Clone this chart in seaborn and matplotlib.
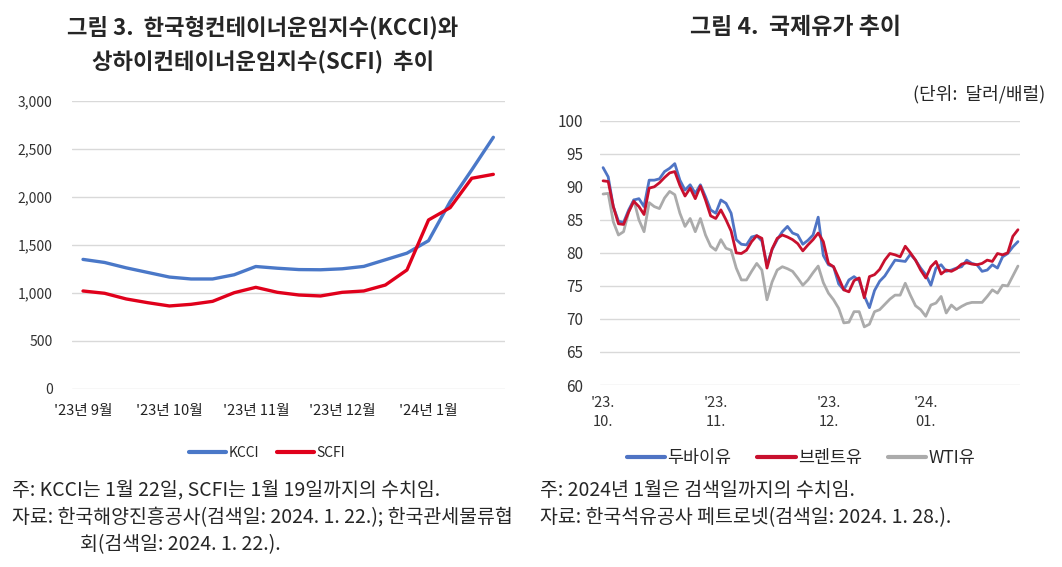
import numpy as np
import pandas as pd
import matplotlib
matplotlib.use("Agg")
import matplotlib.pyplot as plt
import seaborn as sns

# ---- left chart: KCCI / SCFI (weekly) ----
kcci = [1350, 1318, 1262, 1214, 1166, 1146, 1146, 1190, 1276, 1258,
        1244, 1242, 1252, 1277, 1346, 1415, 1545, 1952, 2282, 2622]
scfi = [1021, 997, 938, 899, 865, 882, 913, 1003, 1059, 1007,
        979, 969, 1007, 1021, 1083, 1240, 1761, 1889, 2195, 2236]
left_ticks = [0, 4, 8, 12, 16]
left_ticklabels = ["'23년 9월", "'23년 10월", "'23년 11월", "'23년 12월", "'24년 1월"]

# ---- right chart: oil prices (daily, $/bbl) ----
dubai = [92.9, 91.5, 87.0, 84.8, 84.6, 86.5, 88.0, 88.2, 87.0, 91.0,
         91.0, 91.2, 92.3, 92.8, 93.5, 91.0, 89.5, 90.3, 89.0, 90.3,
         88.5, 86.5, 86.0, 88.0, 87.5, 86.0, 82.0, 81.3, 81.2, 82.4,
         82.6, 81.8, 78.2, 80.5, 82.0, 83.2, 84.0, 83.0, 82.7, 81.3,
         81.9, 82.7, 85.4, 79.6, 78.2, 77.9, 75.3, 74.4, 75.9, 76.4,
         75.8, 73.5, 71.7, 74.3, 75.7, 76.5, 77.7, 78.9, 78.8, 78.7,
         79.8, 78.9, 77.7, 76.7, 75.1, 77.7, 78.2, 77.2, 77.4, 77.7,
         77.9, 78.9, 78.4, 78.2, 77.2, 77.4, 78.2, 77.7, 79.4, 79.9,
         80.9, 81.7]
brent = [90.9, 90.8, 87.0, 84.4, 84.3, 86.2, 87.8, 87.0, 85.8, 89.8,
         90.0, 90.6, 91.4, 92.1, 92.3, 90.2, 88.6, 89.8, 88.2, 90.1,
         88.0, 85.6, 85.2, 86.5, 85.0, 83.3, 80.0, 79.9, 80.4, 81.7,
         82.6, 82.2, 77.7, 80.6, 82.2, 82.7, 82.4, 82.0, 81.4, 80.3,
         81.2, 82.0, 83.0, 81.7, 78.4, 77.9, 76.2, 74.4, 74.1, 75.8,
         76.2, 73.2, 76.4, 76.7, 77.5, 78.9, 79.9, 79.7, 79.4, 81.0,
         80.0, 78.9, 77.4, 76.2, 77.9, 78.7, 76.8, 77.4, 77.2, 77.6,
         78.3, 78.5, 78.3, 78.2, 78.4, 78.9, 78.7, 79.9, 79.7, 80.0,
         82.5, 83.5]
wti = [88.9, 89.0, 84.7, 82.7, 83.2, 86.2, 88.0, 85.0, 83.2, 87.6,
       87.0, 86.7, 88.3, 89.3, 88.8, 86.0, 84.0, 85.2, 83.2, 85.2,
       82.7, 81.0, 80.4, 82.0, 80.7, 80.4, 77.7, 75.9, 75.9, 77.2,
       78.4, 77.4, 72.9, 75.6, 77.4, 77.9, 77.6, 77.2, 76.2, 75.1,
       75.9, 77.0, 78.0, 75.5, 73.9, 72.9, 71.6, 69.4, 69.5, 71.1,
       71.1, 68.8, 69.2, 71.1, 71.4, 72.2, 73.0, 73.6, 73.6, 75.4,
       73.6, 72.0, 71.4, 70.4, 72.1, 72.4, 73.4, 70.9, 72.1, 71.4,
       71.9, 72.3, 72.5, 72.5, 72.5, 73.4, 74.4, 73.9, 75.1, 75.0,
       76.5, 78.0]
right_ticks = [0, 22, 44, 63]
right_ticklabels = ["'23.\n10.", "'23.\n11.", "'23.\n12.", "'24.\n01."]

sns.set_style("white")
plt.rcParams['font.family'] = ['Noto Sans CJK KR', 'DejaVu Sans']

fig = plt.figure(figsize=(10.62, 5.67), dpi=100)

# ---------------- left ----------------
ax1 = fig.add_axes([72 / 1062, 1 - 389 / 567, 433 / 1062, 288 / 567])
left_df = pd.DataFrame({
    'week': list(range(len(kcci))) * 2,
    'value': kcci + scfi,
    'series': ['KCCI'] * len(kcci) + ['SCFI'] * len(scfi),
})
sns.lineplot(data=left_df, x='week', y='value', hue='series',
             palette={'KCCI': '#4A78C8', 'SCFI': '#E0001B'},
             linewidth=2.4, ax=ax1)
ax1.set_xlim(-0.51, 19.54)
ax1.set_ylim(0, 3000)
ax1.set_yticks(range(0, 3001, 500))
ax1.set_yticklabels([f"{v:,}" for v in range(0, 3001, 500)], fontsize=10, color='#333333')
ax1.set_xticks(left_ticks)
ax1.set_xticklabels(left_ticklabels, fontsize=10.5, color='#222222')
ax1.tick_params(axis='y', length=0, pad=14)
ax1.tick_params(axis='x', length=0, pad=11)
ax1.grid(axis='y', color='#d9d9d9', linewidth=1)
ax1.set_xlabel('')
ax1.set_ylabel('')
for s in ax1.spines.values():
    s.set_visible(False)
ax1.legend(loc='center', bbox_to_anchor=(0.45, -0.222), ncol=2, frameon=False,
           fontsize=10, handlelength=2.7, handletextpad=0.15, columnspacing=1.3)
for line in ax1.get_legend().get_lines():
    line.set_linewidth(3)

fig.text(263 / 1062, 1 - 28 / 567, "그림 3.  한국형컨테이너운임지수(KCCI)와",
         ha='center', va='center', fontsize=16, fontweight='bold')
fig.text(263 / 1062, 1 - 62 / 567, "상하이컨테이너운임지수(SCFI)  추이",
         ha='center', va='center', fontsize=16, fontweight='bold')

# ---------------- right ----------------
ax2 = fig.add_axes([600 / 1062, 1 - 385 / 567, 420 / 1062, 264.3 / 567])
n = len(dubai)
right_df = pd.DataFrame({
    'day': list(range(n)) * 3,
    'value': dubai + brent + wti,
    'series': ['두바이유'] * n + ['브렌트유'] * n + ['WTI유'] * n,
})
sns.lineplot(data=right_df, x='day', y='value', hue='series',
             hue_order=['WTI유', '두바이유', '브렌트유'],
             palette={'두바이유': '#4F74C4', '브렌트유': '#C8102E', 'WTI유': '#ABABAB'},
             linewidth=2.0, ax=ax2)
ax2.set_xlim(-0.6, 81.4)
ax2.set_ylim(60, 100)
ax2.set_yticks(range(60, 101, 5))
ax2.set_yticklabels([str(v) for v in range(60, 101, 5)], fontsize=11, color='#333333')
ax2.set_xticks(right_ticks)
ax2.set_xticklabels(right_ticklabels, fontsize=10.5, color='#333333', linespacing=1.4)
ax2.tick_params(axis='y', length=0, pad=12)
ax2.tick_params(axis='x', length=0, pad=8)
ax2.grid(axis='y', color='#d9d9d9', linewidth=1)
ax2.set_xlabel('')
ax2.set_ylabel('')
for s in ax2.spines.values():
    s.set_visible(False)
h, l = ax2.get_legend_handles_labels()
order = [l.index('두바이유'), l.index('브렌트유'), l.index('WTI유')]
ax2.legend([h[i] for i in order], [l[i] for i in order],
           loc='center', bbox_to_anchor=(0.479, -0.276), ncol=3, frameon=False,
           fontsize=12.5, handlelength=2.2, handletextpad=0.15, columnspacing=1.5)
for line in ax2.get_legend().get_lines():
    line.set_linewidth(3)

fig.text(795 / 1062, 1 - 28 / 567, "그림 4.  국제유가 추이",
         ha='center', va='center', fontsize=16.5, fontweight='bold')
fig.text(1045 / 1062, 1 - 94 / 567, "(단위:  달러/배럴)",
         ha='right', va='center', fontsize=13)

# ---------------- notes ----------------
note_size = 14
fig.text(12 / 1062, 1 - 491 / 567, "주: KCCI는 1월 22일, SCFI는 1월 19일까지의 수치임.",
         ha='left', va='center', fontsize=note_size)
fig.text(12 / 1062, 1 - 518 / 567, "자료: 한국해양진흥공사(검색일: 2024. 1. 22.); 한국관세물류협",
         ha='left', va='center', fontsize=note_size)
fig.text(80 / 1062, 1 - 545 / 567, "회(검색일: 2024. 1. 22.).",
         ha='left', va='center', fontsize=note_size)
fig.text(540 / 1062, 1 - 491 / 567, "주: 2024년 1월은 검색일까지의 수치임.",
         ha='left', va='center', fontsize=note_size)
fig.text(540 / 1062, 1 - 518 / 567, "자료: 한국석유공사 페트로넷(검색일: 2024. 1. 28.).",
         ha='left', va='center', fontsize=note_size)

fig.savefig("out.png", dpi=100)
